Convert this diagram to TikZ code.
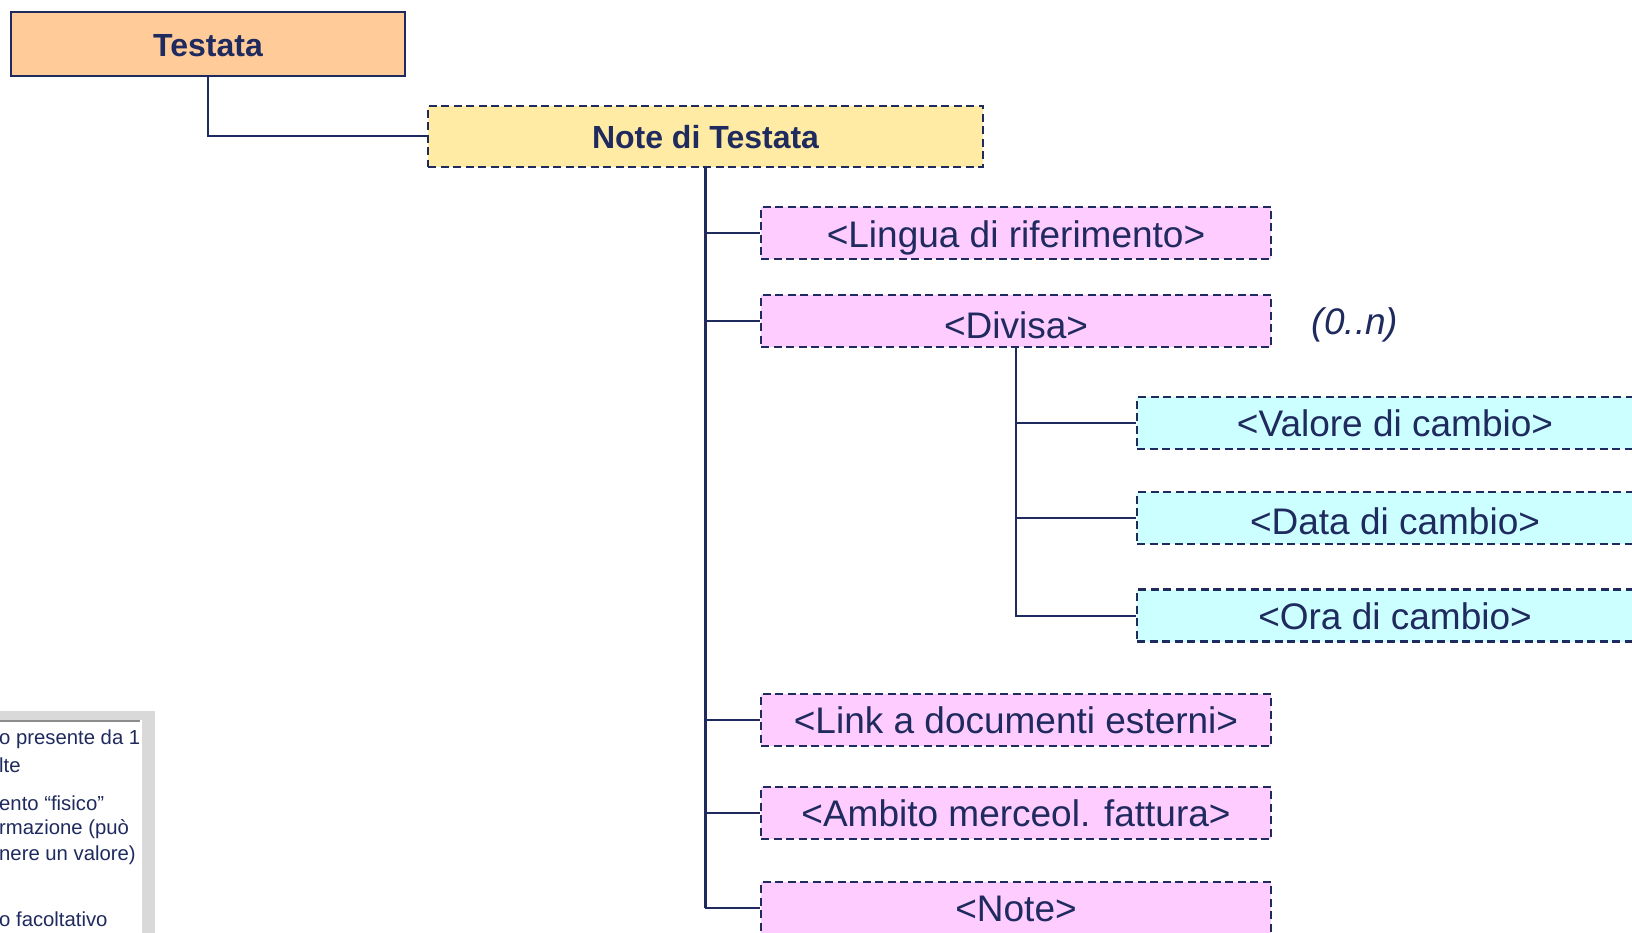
\documentclass[tikz,border=0pt]{standalone}
\usepackage{fontspec}
\setmainfont{Liberation Sans}
\definecolor{navy}{HTML}{1F2A5E}
\definecolor{peach}{HTML}{FFCC99}
\definecolor{lyellow}{HTML}{FFEBA3}
\definecolor{lpink}{HTML}{FFCCFF}
\definecolor{lcyan}{HTML}{CCFFFF}
\definecolor{panelgray}{HTML}{D9D9D9}
\definecolor{edgegray}{HTML}{8C8C8C}
\begin{document}
\begin{tikzpicture}[x=1pt,y=-1pt,
  every node/.style={text=navy, inner sep=0pt},
  bl/.style={text height=#1, text depth=0pt},
  conn/.style={draw=navy, line width=2pt},
  trunk/.style={draw=navy, line width=2.8pt},
  dashbox/.style={draw=navy, line width=2.3pt, dash pattern=on 8pt off 4.5pt},
  headbox/.style={draw=navy, line width=2pt, fill=peach, minimum width=394pt, minimum height=64pt, font=\fontsize{32}{38}\selectfont\bfseries},
  notebox/.style={dashbox, fill=lyellow, minimum width=555pt, minimum height=61pt, font=\fontsize{32}{38}\selectfont\bfseries},
  pinkbox/.style={dashbox, fill=lpink, minimum width=510pt, minimum height=52pt, font=\fontsize{37}{44}\selectfont},
  cyanbox/.style={dashbox, fill=lcyan, minimum width=516pt, minimum height=52pt, font=\fontsize{37}{44}\selectfont},
  legtext/.style={anchor=west, font=\fontsize{20.3}{24}\selectfont}
]
\useasboundingbox (0,0) rectangle (1632,933);
\clip (0,0) rectangle (1632,933);
\fill[white] (0,0) rectangle (1632,933);

% legend panel
\fill[panelgray] (0,711) rectangle (155,940);
\fill[white] (0,720) rectangle (142,940);
\draw[edgegray, line width=2.5pt] (0,721) -- (140,721);
\node[legtext] (l1) at (-1,739.5) {o presente da 1};
\node[legtext] (l2) at (-1,765) {lte};
\node[legtext] (l3) at (-1,803) {ento “fisico”};
\node[legtext] (l4) at (-1,829) {rmazione (può};
\node[legtext] (l5) at (-1,855) {nere un valore)};
\node[legtext] (l6) at (-1,919) {o facoltativo};

% nodes
\node[headbox, bl=25pt] (testata) at (208,44) {Testata};
\node[notebox, bl=24pt] (ndt) at (705.5,136.5) {Note di Testata};

\node[pinkbox, bl=29pt] (lingua) at (1016,233) {<Lingua di riferimento>};
\node[pinkbox, bl=35pt] (divisa) at (1016,321) {<Divisa>};
\node[pinkbox, bl=27pt] (link) at (1016,720) {<Link a documenti esterni>};
\node[pinkbox, bl=27pt] (ambito) at (1016,813) {<Ambito merceol. fattura>};
\node[pinkbox, bl=27pt] (note) at (1016,908) {<Note>};

\node[cyanbox, bl=27pt] (valore) at (1395,423) {<Valore di cambio>};
\node[cyanbox, bl=32pt] (data) at (1395,518) {<Data di cambio>};
\node[cyanbox, bl=28pt] (ora) at (1395,615.5) {<Ora di cambio>};

\node[font=\fontsize{37}{44}\selectfont\itshape] (card) at (1355,325) {(0..n)};

% connectors
\draw[conn] (testata.south) |- (ndt.west);
\draw[trunk] (ndt.south) -- (ndt.south |- note.west);
\draw[conn] (ndt.south) |- (lingua.west);
\draw[conn] (ndt.south) |- (divisa.west);
\draw[conn] (ndt.south) |- (link.west);
\draw[conn] (ndt.south) |- (ambito.west);
\draw[conn] (ndt.south) |- (note.west);
\draw[conn] (divisa.south) |- (valore.west);
\draw[conn] (divisa.south) |- (data.west);
\draw[conn] (divisa.south) |- (ora.west);
\end{tikzpicture}
\end{document}
